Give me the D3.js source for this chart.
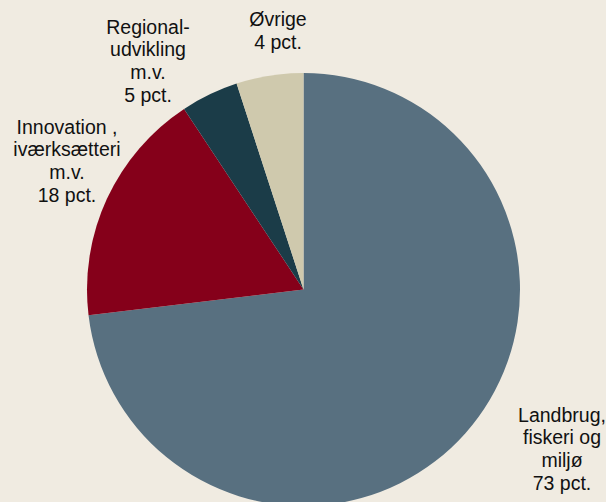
<!DOCTYPE html>
<html><head><meta charset="utf-8">
<script src="https://cdn.jsdelivr.net/npm/d3@7"></script>
<style>html,body{margin:0;padding:0;background:#f0ebe1;}</style>
</head><body>
<svg id="c" width="606" height="502"></svg>
<script>
const categories = ["Landbrug, fiskeri og miljø", "Innovation , iværksætteri m.v.", "Regional-udvikling m.v.", "Øvrige"];
const values = [73.1, 17.6, 4.3, 5.0];
const labelLines = [
  ["Landbrug,", "fiskeri og", "miljø", "73 pct."],
  ["Innovation ,", "iværksætteri", "m.v.", "18 pct."],
  ["Regional-", "udvikling", "m.v.", "5 pct."],
  ["Øvrige", "4 pct."]
];
const colors = ["#587080", "#85001a", "#1b3c48", "#cfc9ad"];
// label anchor layout (centre x, first baseline y)
const labelLayout = [[562, 421.5], [67, 133.5], [148, 33.5], [278, 26]];

const svg = d3.select("#c");
svg.append("rect").attr("width", 606).attr("height", 502).attr("fill", "#f0ebe1");
const cx = 303.5, cy = 289.5, r = 216.5;
const pie = d3.pie().sort(null).value(d => d)(values);
const arc = d3.arc().innerRadius(0).outerRadius(r);
const g = svg.append("g").attr("transform", `translate(${cx},${cy})`);
g.selectAll("path").data(pie).join("path")
  .attr("d", arc).attr("fill", (d, i) => colors[i]);

const lh = 22.7;
labelLines.forEach((lines, i) => {
  const t = svg.append("text")
    .attr("text-anchor", "middle")
    .attr("font-family", "'Liberation Sans', Arial, sans-serif")
    .attr("font-size", "19.5px")
    .attr("fill", "#111");
  lines.forEach((s, j) => {
    t.append("tspan").attr("x", labelLayout[i][0]).attr("y", labelLayout[i][1] + j * lh).text(s);
  });
});
</script>
</body></html>
